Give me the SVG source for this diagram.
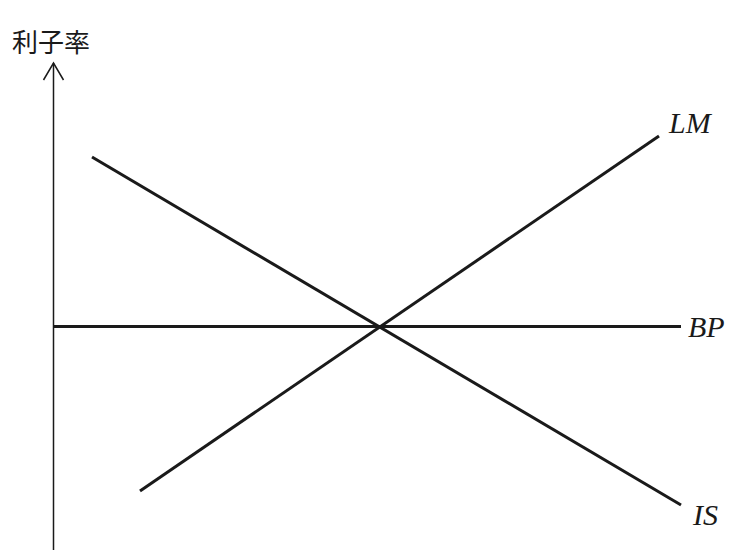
<svg xmlns="http://www.w3.org/2000/svg" width="746" height="550" viewBox="0 0 746 550">
<style>
.axis{stroke:#1a1a1a;stroke-width:1.5;fill:none}
.curve{stroke:#1a1a1a;stroke-width:3;fill:none;stroke-linecap:butt}
.lab{font-family:"Liberation Serif","DejaVu Serif",serif;font-style:italic;font-size:30px;fill:#1a1a1a}
.ax{font-family:"Noto Sans CJK JP","Noto Sans CJK SC",sans-serif;font-size:26px;fill:#1a1a1a}
</style>
<rect width="746" height="550" fill="#ffffff"/>
<g id="axis">
<line class="axis" x1="53.5" y1="63" x2="53.5" y2="550"/>
<polyline class="axis" points="43.5,80 53.5,63 63.5,80"/>
<text class="ax" x="12" y="52">利子率</text>
</g>
<g id="connectors">
<line id="BP" class="curve" x1="53.5" y1="326.5" x2="681" y2="326.5"/>
<line id="IS" class="curve" x1="92" y1="157" x2="681" y2="505"/>
<line id="LM" class="curve" x1="140" y1="491" x2="659" y2="136"/>
</g>
<g id="label-LM"><text class="lab" x="669" y="133">LM</text></g>
<g id="label-BP"><text class="lab" x="688" y="337">BP</text></g>
<g id="label-IS"><text class="lab" x="693" y="525">IS</text></g>
</svg>
